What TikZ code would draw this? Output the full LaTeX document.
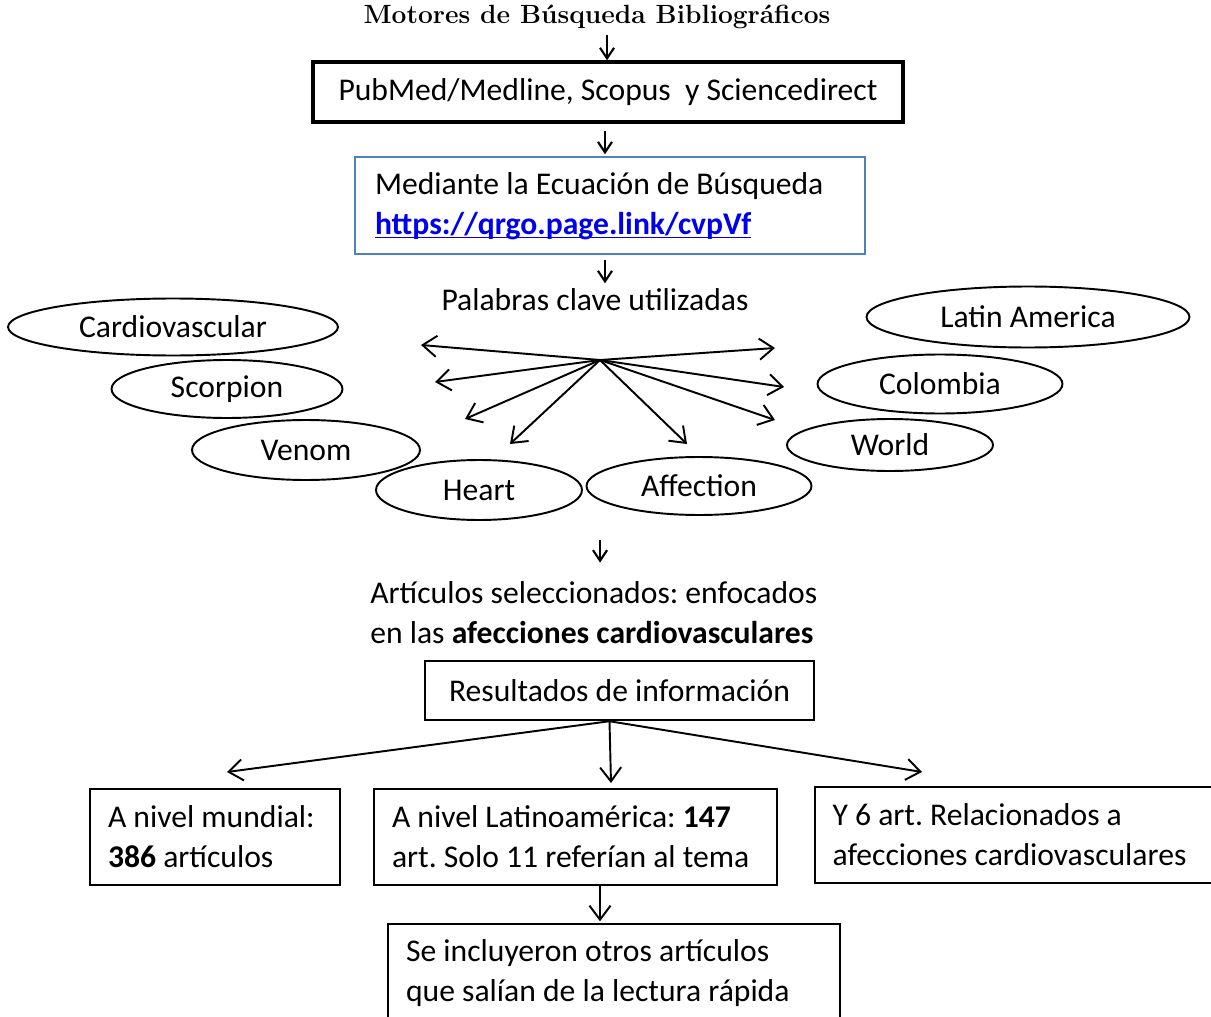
\documentclass[tikz,border=0pt]{standalone}
\usepackage{fontspec}
\newfontfamily\calibri{Carlito}
\usetikzlibrary{arrows.meta,shapes.geometric}
\definecolor{boxblue}{RGB}{79,129,189}
\definecolor{linkblue}{RGB}{0,0,238}
\begin{document}
\begin{tikzpicture}[x=0.02cm,y=-0.02cm,
  txt/.style={font=\calibri\fontsize{18}{22.7}\selectfont\frenchspacing, inner sep=0pt},
  kw/.style={txt, draw, ellipse, line width=1.1pt},
  box/.style={txt, draw, line width=1.1pt, align=flush left, inner xsep=0.36cm},
  arr/.style={-{Straight Barb[length=8pt,width=12pt]}, line width=1.1pt},
  sarr/.style={-{Straight Barb[length=6pt,width=8pt]}, line width=1.2pt}]
\useasboundingbox (0,0) rectangle (1211,1017);
\clip (0,0) rectangle (1211,1017);

% title and top boxes
\node[inner sep=0pt, font=\fontsize{15}{18}\selectfont\bfseries] (title) at (597,17) {Motores de Búsqueda Bibliográficos};
\node[txt, draw, line width=2pt, minimum width=11.8cm, minimum height=1.2cm] (box1) at (608,92) {PubMed/Medline, Scopus\ \ y Sciencedirect};
\node[box, draw=boxblue, inner xsep=0.4cm, text width=9.4cm, minimum height=1.94cm] (box2) at (610,205.5)
  {\mbox{Mediante la Ecuación de Búsqueda}\\{\color{linkblue}\textbf{\underline{\smash{https://qrgo.page.link/cvpVf}}}}};
\node[txt] (pal) at (595,300) {Palabras clave utilizadas};

\draw[sarr, shorten <=3pt] ([xshift=-0.02cm]title.south -| box1.north) -- ([xshift=-0.02cm]box1.north);
\draw[sarr, shorten <=4pt, shorten >=1pt] ([xshift=-0.06cm]box1.south) -- ([xshift=-0.06cm]box1.south |- box2.north);
\draw[sarr, shorten <=3pt, shorten >=3pt] ([xshift=-0.1cm]box2.south) -- ([xshift=-0.1cm]box2.south |- pal.north);

% keywords
\node[kw, minimum width=6.6cm, minimum height=1.14cm] (k1) at (173,327) {Cardiovascular};
\node[kw, minimum width=4.62cm, minimum height=1.16cm] (k2) at (227,389) {Scorpion};
\node[kw, minimum width=4.56cm, minimum height=1.2cm] (k3) at (306,450) {Venom};
\node[kw, minimum width=4.12cm, minimum height=1.2cm] (k4) at (479,490) {Heart};
\node[kw, minimum width=4.5cm, minimum height=1.16cm] (k5) at (699,486) {Affection};
\node[kw, minimum width=6.46cm, minimum height=1.22cm] (k6) at (1028,317) {Latin America};
\node[kw, minimum width=4.9cm, minimum height=1.18cm] (k7) at (940,384) {Colombia};
\node[kw, minimum width=4.12cm, minimum height=1.04cm] (k8) at (890,445) {World};

\coordinate (hub) at (600,360);
\coordinate (t1) at (421,345);
\coordinate (t2) at (435,382);
\coordinate (t3) at (465,419);
\coordinate (t4) at (510,444);
\coordinate (t5) at (687,444);
\coordinate (t6) at (775,348);
\coordinate (t7) at (784,387);
\coordinate (t8) at (775,420);
\foreach \t in {t1,t2,t3,t4,t5,t6,t7,t8} \draw[arr] (hub) -- (\t);

% selected articles
\node[txt, align=flush left, anchor=west] (sel) at (370,613)
  {Artículos seleccionados: enfocados\\en las \textbf{afecciones cardiovasculares}};
\coordinate (a9) at (600,540);
\draw[sarr, shorten >=0.38cm] (a9) -- (a9 |- sel.north);

% results
\node[txt, draw, line width=1.4pt, minimum width=7.78cm, minimum height=1.18cm] (res) at (619.5,690.5) {Resultados de información};
\node[box, text width=4.28cm, minimum height=1.92cm] (mund) at (215,837) {\mbox{A nivel mundial:}\\\mbox{\textbf{386} artículos}};
\node[box, text width=7.34cm, minimum height=1.92cm] (lat) at (575.5,837) {\mbox{A nivel Latinoamérica: \textbf{147}}\\\mbox{art. Solo 11 referían al tema}};
\node[box, text width=7.22cm, minimum height=1.92cm] (y6) at (1013,835) {\mbox{Y 6 art. Relacionados a}\\\mbox{afecciones cardiovasculares}};
\node[box, text width=8.32cm, minimum height=1.96cm] (inc) at (614,973) {\mbox{Se incluyeron otros artículos}\\\mbox{que salían de la lectura rápida}};

\coordinate (rs) at ([xshift=-0.2cm]res.south);
\coordinate (r1) at (227,772);
\coordinate (r2) at (611,783);
\coordinate (r3) at (922,772);
\draw[arr] (rs) -- (r1);
\draw[arr] (rs) -- (r2);
\draw[arr] (rs) -- (r3);

\coordinate (a10) at (600,885);
\draw[arr, shorten >=1pt] (a10) -- (a10 |- inc.north);
\end{tikzpicture}
\end{document}
